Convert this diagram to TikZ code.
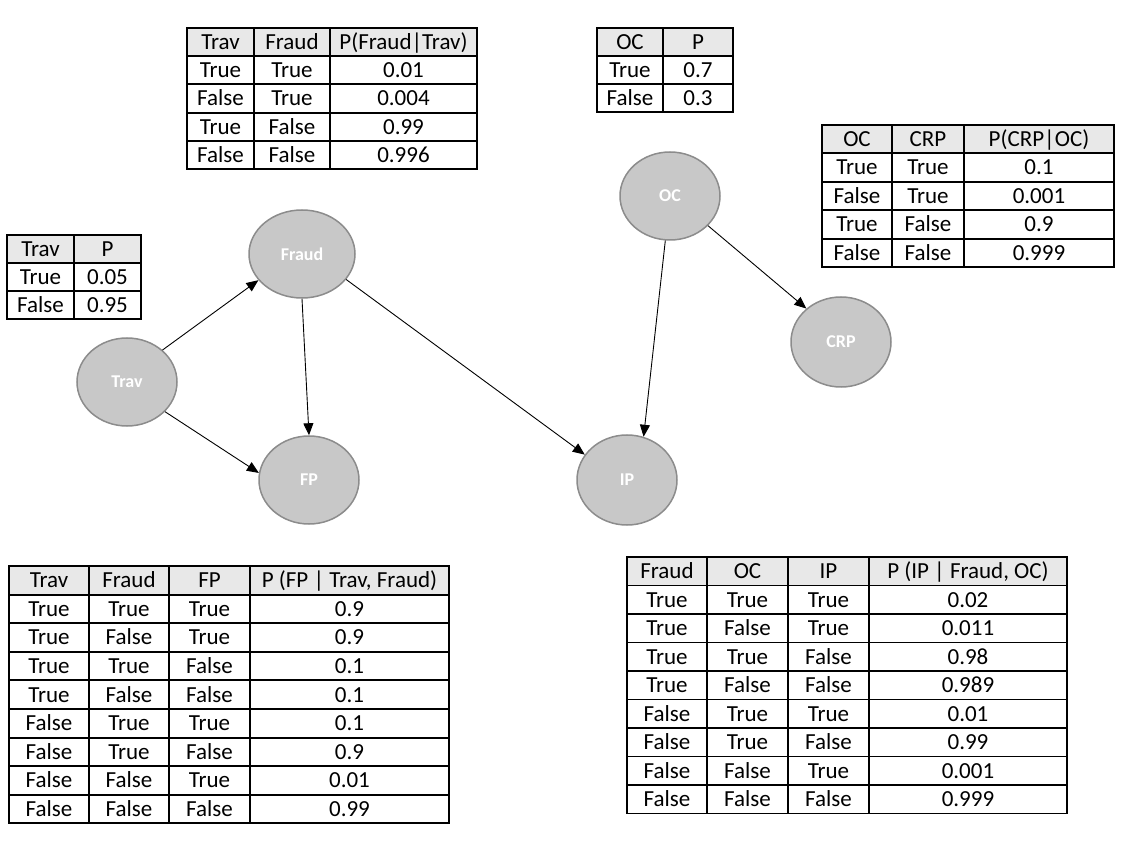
\documentclass[tikz,border=0pt]{standalone}
\usepackage{fontspec}
\setmainfont{Carlito}
\usetikzlibrary{arrows.meta,shapes.geometric}
\definecolor{nodefill}{HTML}{C8C8C8}
\definecolor{nodeedge}{HTML}{8C8C8C}
\definecolor{hdrgray}{HTML}{E8E8E8}
\tikzset{
  cell/.style={font=\fontsize{23}{27}\selectfont, inner sep=0pt, text height=14.8pt, text depth=0pt, anchor=center},
  gridline/.style={line width=1.9pt, draw=black},
  hdr/.style={fill=hdrgray},
  bnode/.style={ellipse, draw=nodeedge, line width=1.5pt, fill=nodefill, text=white,
    font=\fontsize{18}{20}\selectfont\bfseries, minimum width=100pt, minimum height=88pt, inner sep=0pt},
  edge/.style={line width=0.9pt, -{Triangle[length=12pt,width=10pt]}}
}
\begin{document}
\begin{tikzpicture}[x=1pt,y=-1pt]
\useasboundingbox (0,0) rectangle (1128,842);
\fill[white] (0,0) rectangle (1128,842);

% ---------- Table: P(Trav) ----------
\fill[hdr] (7,235) rectangle (141,263);
\foreach \k in {1,2} \draw[gridline] (7,{235+28*\k}) -- (141,{235+28*\k});
\draw[gridline] (74,235) -- (74,319);
\draw[gridline] (7,235) rectangle (141,319);
\foreach \a/\b [count=\i from 0] in {Trav/P, True/0.05, False/0.95} {
  \node[cell] (ta-\i-1) at (40.5,{249+28*\i}) {\a};
  \node[cell] (ta-\i-2) at (107.5,{249+28*\i}) {\b};
}

% ---------- Table: P(Fraud|Trav) ----------
\fill[hdr] (187,28) rectangle (477,56.2);
\foreach \k in {1,...,4} \draw[gridline] (187,{28+28.2*\k}) -- (477,{28+28.2*\k});
\foreach \xx in {254,330} \draw[gridline] (\xx,28) -- (\xx,169);
\draw[gridline] (187,28) rectangle (477,169);
\foreach \a/\b/\c [count=\i from 0] in {Trav/Fraud/P(Fraud|Trav), True/True/0.01, False/True/0.004, True/False/0.99, False/False/0.996} {
  \node[cell] (tb-\i-1) at (220.5,{42.1+28.2*\i}) {\a};
  \node[cell] (tb-\i-2) at (292,{42.1+28.2*\i}) {\b};
  \node[cell] (tb-\i-3) at (403.5,{42.1+28.2*\i}) {\c};
}

% ---------- Table: P(OC) ----------
\fill[hdr] (597,28) rectangle (733,56);
\foreach \k in {1,2} \draw[gridline] (597,{28+28*\k}) -- (733,{28+28*\k});
\draw[gridline] (663,28) -- (663,112);
\draw[gridline] (597,28) rectangle (733,112);
\foreach \a/\b [count=\i from 0] in {OC/P, True/0.7, False/0.3} {
  \node[cell] (tc-\i-1) at (630,{42+28*\i}) {\a};
  \node[cell] (tc-\i-2) at (698,{42+28*\i}) {\b};
}

% ---------- Table: P(CRP|OC) ----------
\fill[hdr] (822,125) rectangle (1114,153.4);
\foreach \k in {1,...,4} \draw[gridline] (822,{125+28.4*\k}) -- (1114,{125+28.4*\k});
\foreach \xx in {892,964} \draw[gridline] (\xx,125) -- (\xx,267);
\draw[gridline] (822,125) rectangle (1114,267);
\foreach \a/\b/\c [count=\i from 0] in {OC/CRP/P(CRP|OC), True/True/0.1, False/True/0.001, True/False/0.9, False/False/0.999} {
  \node[cell] (td-\i-1) at (857,{139.2+28.4*\i}) {\a};
  \node[cell] (td-\i-2) at (928,{139.2+28.4*\i}) {\b};
  \node[cell] (td-\i-3) at (1039,{139.2+28.4*\i}) {\c};
}

% ---------- Table: P(FP|Trav,Fraud) ----------
\fill[hdr] (9,566) rectangle (449,594.6);
\foreach \k in {1,...,8} \draw[gridline] (9,{566+28.6*\k}) -- (449,{566+28.6*\k});
\foreach \xx in {89,169,250} \draw[gridline] (\xx,566) -- (\xx,823.4);
\draw[gridline] (9,566) rectangle (449,823.4);
\node[cell] (te-0-1) at (49,580.3) {Trav};
\node[cell] (te-0-2) at (129,580.3) {Fraud};
\node[cell] (te-0-3) at (209.5,580.3) {FP};
\node[cell] (te-0-4) at (349.5,580.3) {P (FP | Trav, Fraud)};
\foreach \a/\b/\c/\d [count=\i] in {True/True/True/0.9, True/False/True/0.9, True/True/False/0.1, True/False/False/0.1, False/True/True/0.1, False/True/False/0.9, False/False/True/0.01, False/False/False/0.99} {
  \node[cell] (te-\i-1) at (49,{580.3+28.6*\i}) {\a};
  \node[cell] (te-\i-2) at (129,{580.3+28.6*\i}) {\b};
  \node[cell] (te-\i-3) at (209.5,{580.3+28.6*\i}) {\c};
  \node[cell] (te-\i-4) at (349.5,{580.3+28.6*\i}) {\d};
}

% ---------- Table: P(IP|Fraud,OC) ----------
\fill[hdr] (627,557) rectangle (1067,585.5);
\foreach \k in {1,...,8} \draw[gridline] (627,{557+28.5*\k}) -- (1067,{557+28.5*\k});
\foreach \xx in {707,788,869} \draw[gridline] (\xx,557) -- (\xx,813.5);
\draw[gridline] (627,557) rectangle (1067,813.5);
\node[cell] (tf-0-1) at (667,571.2) {Fraud};
\node[cell] (tf-0-2) at (747.5,571.2) {OC};
\node[cell] (tf-0-3) at (828.5,571.2) {IP};
\node[cell] (tf-0-4) at (968,571.2) {P (IP | Fraud, OC)};
\foreach \a/\b/\c/\d [count=\i] in {True/True/True/0.02, True/False/True/0.011, True/True/False/0.98, True/False/False/0.989, False/True/True/0.01, False/True/False/0.99, False/False/True/0.001, False/False/False/0.999} {
  \node[cell] (tf-\i-1) at (667,{571.2+28.5*\i}) {\a};
  \node[cell] (tf-\i-2) at (747.5,{571.2+28.5*\i}) {\b};
  \node[cell] (tf-\i-3) at (828.5,{571.2+28.5*\i}) {\c};
  \node[cell] (tf-\i-4) at (968,{571.2+28.5*\i}) {\d};
}

% ---------- Network nodes ----------
\node[bnode] (trav)  at (127,382) {Trav};
\node[bnode, minimum width=106pt] (fraud) at (302,254) {Fraud};
\node[bnode] (fp)    at (309,480) {FP};
\node[bnode, minimum height=90pt] (ip) at (627,480) {IP};
\node[bnode] (oc)    at (670,196) {OC};
\node[bnode, minimum height=90pt] (crp) at (841,342) {CRP};

% ---------- Edges ----------
\draw[edge] (trav.42) -- (fraud.211);
\draw[edge] (trav.-38) -- (fp.172);
\draw[edge] (fraud.south) -- (fp.north);
\draw[edge] (fraud.-30) -- (ip.149);
\draw[edge] (oc.264) -- (ip.69);
\draw[edge] (oc.-38) -- (crp.136);
\end{tikzpicture}
\end{document}
